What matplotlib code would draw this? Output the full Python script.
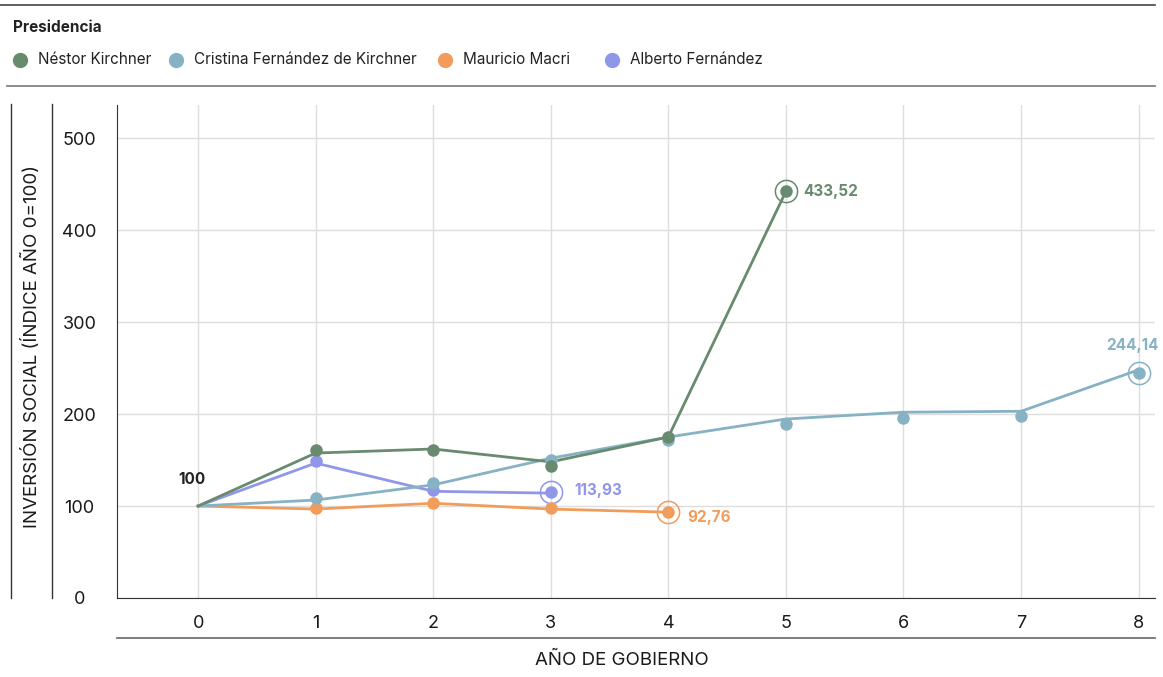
import matplotlib
matplotlib.use('Agg')
import matplotlib.pyplot as plt
from matplotlib.lines import Line2D

plt.rcParams['font.family'] = ['Inter', 'DejaVu Sans']

years = [0, 1, 2, 3, 4, 5, 6, 7, 8]
presidentes = ['Néstor Kirchner', 'Cristina Fernández de Kirchner', 'Mauricio Macri', 'Alberto Fernández']
colores = ['#688a6f', '#86b2c3', '#f29c5c', '#9097e8']

# valores de los puntos
nestor_pts = [100, 160.9, 161.0, 143.5, 175.0, 442.0]
cristina_pts = [100, 108.7, 125.0, 150.0, 172.0, 189.0, 195.6, 198.0, 244.6]
macri_pts = [100, 97.8, 103.0, 97.8, 93.5]
alberto_pts = [100, 149.0, 117.4, 115.0]

# valores de la linea (suavizada)
nestor_line = [100, 157.6, 162.0, 148.0, 175.0, 442.0]
cristina_line = [100, 106.5, 123.0, 152.0, 175.0, 194.6, 202.0, 203.0, 248.0]
macri_line = [100, 96.7, 103.0, 96.7, 93.3]
alberto_line = [100, 146.7, 116.0, 114.0]

etiquetas_fin = ['433,52', '244,14', '92,76', '113,93']

fig = plt.figure(figsize=(11.63, 6.77), dpi=100)
ax = fig.add_axes([117/1163, 1-598/677, (1155-117)/1163, (598-105)/677])

series = [
    (alberto_pts, alberto_line, colores[3]),
    (macri_pts, macri_line, colores[2]),
    (cristina_pts, cristina_line, colores[1]),
    (nestor_pts, nestor_line, colores[0]),
]
for pts, line, c in series:
    xs = years[:len(pts)]
    ax.plot(xs, line, color=c, lw=2.0, zorder=3)
    ax.plot(xs[1:], pts[1:], 'o', color=c, ms=9, zorder=4, mec='none')
    ax.plot(xs[-1], pts[-1], 'o', mfc='none', mec=c, ms=16, mew=1.1, zorder=4)

ax.set_xlim(-0.69, 8.14)
ax.set_ylim(0, 536)
ax.set_xticks(years)
ax.set_yticks([0, 100, 200, 300, 400, 500])
ax.grid(True, color='#dddddd', lw=1)
ax.set_axisbelow(True)
ax.tick_params(length=0, labelsize=13, colors='#1a1a1a')
ax.tick_params(axis='x', pad=12)
for lab in ax.get_yticklabels():
    lab.set_horizontalalignment('center')
ax.tick_params(axis='y', pad=27)
for s in ['top', 'right']:
    ax.spines[s].set_visible(False)
ax.spines['left'].set_color('#333333')
ax.spines['bottom'].set_color('#333333')

# etiquetas de valores
ax.text(-0.05, 129, '100', ha='center', va='center', fontsize=11, fontweight='bold', color='#222222')
ax.text(5.15, 442, etiquetas_fin[0], ha='left', va='center', fontsize=11, fontweight='bold', color=colores[0])
ax.text(7.95, 274, etiquetas_fin[1], ha='center', va='center', fontsize=11, fontweight='bold', color=colores[1])
ax.text(4.16, 87, etiquetas_fin[2], ha='left', va='center', fontsize=11, fontweight='bold', color=colores[2])
ax.text(3.2, 117, etiquetas_fin[3], ha='left', va='center', fontsize=11, fontweight='bold', color=colores[3])

# titulos de ejes
fig.text(31/1163, 1-346/677, 'INVERSIÓN SOCIAL (ÍNDICE AÑO 0=100)', rotation=90,
         ha='center', va='center', fontsize=13.5, color='#1a1a1a')
fig.text(622/1163, 1-660/677, 'AÑO DE GOBIERNO', ha='center', va='center', fontsize=13.5, color='#1a1a1a')

# lineas decorativas
fig.add_artist(Line2D([0, 1155/1163], [1-5/677, 1-5/677], color='#444444', lw=1.2))
fig.add_artist(Line2D([7/1163, 1155/1163], [1-86/677, 1-86/677], color='#777777', lw=1.2))
fig.add_artist(Line2D([117/1163, 1155/1163], [1-638/677, 1-638/677], color='#666666', lw=1.2))
for xp in [11, 52]:
    fig.add_artist(Line2D([xp/1163, xp/1163], [1-104/677, 1-598/677], color='#333333', lw=1))

# leyenda
fig.text(13/1163, 1-28/677, 'Presidencia', ha='left', va='center', fontsize=11, fontweight='bold', color='#222222')
dot_x = [20, 176, 445, 612]
for nombre, c, xp in zip(presidentes, colores, dot_x):
    fig.add_artist(Line2D([xp/1163], [1-60/677], marker='o', color=c, ms=11, mec='none'))
    fig.text((xp+18)/1163, 1-60/677, nombre, ha='left', va='center', fontsize=11, color='#222222')

plt.savefig('out.png', dpi=100)
